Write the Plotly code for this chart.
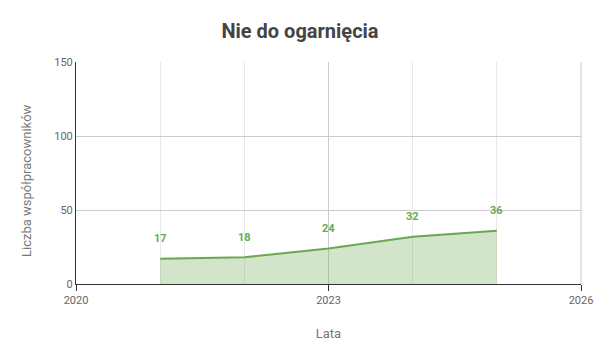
import plotly.graph_objects as go

years = [2021, 2022, 2023, 2024, 2025]
values = [17, 18, 24, 32, 36]
title = "Nie do ogarnięcia"
x_title = "Lata"
y_title = "Liczba współpracowników"

line_color = "#6aa84f"
fill_color = "rgba(106,168,79,0.3)"

W, H = 600, 360
ML, MR, MT, MB = 76, 19, 62, 76

fig = go.Figure()
fig.add_trace(go.Scatter(
    x=years, y=values, mode="lines", fill="tozeroy",
    line=dict(color=line_color, width=2), fillcolor=fill_color,
    hoverinfo="skip", showlegend=False,
))
for x, v in zip(years, values):
    fig.add_annotation(x=x, y=v, text=f"<b>{v}</b>", showarrow=False, yshift=20,
                       font=dict(family="Roboto", size=11, color=line_color))

# y-axis title placed as annotation to match reference position
pw, ph = W - ML - MR, H - MT - MB
fig.add_annotation(xref="paper", yref="paper", x=(26 - ML) / pw, y=(H - MB - 181) / ph,
                   text=y_title, textangle=-90, showarrow=False, xanchor="center", yanchor="middle",
                   font=dict(family="Roboto", size=13, color="#777777"))

fig.update_layout(
    width=W, height=H,
    margin=dict(l=ML, r=MR, t=MT, b=MB, autoexpand=False),
    paper_bgcolor="white", plot_bgcolor="white",
    font=dict(family="Roboto", color="#666"),
    title=dict(text=f"<b>{title}</b>", x=0.5, xanchor="center", y=1 - 31/360, yanchor="middle",
               font=dict(family="Roboto", size=20, color="#444")),
    xaxis=dict(
        range=[2020, 2026], tick0=2020, dtick=3, ticks="outside", ticklen=6, tickcolor="#333",
        showline=True, linecolor="#333", linewidth=1, automargin=False,
        showgrid=True, gridcolor="#cccccc", zeroline=False,
        minor=dict(dtick=1, tick0=2020, showgrid=True, gridcolor="#e8e8e8", ticks=""),
        tickfont=dict(size=11, color="#666"),
        title=dict(text=x_title, font=dict(size=13, color="#777777"), standoff=22),
    ),
    yaxis=dict(
        range=[0, 150], dtick=50, showline=True, linecolor="#333", linewidth=1, automargin=False,
        showgrid=True, gridcolor="#cccccc", zeroline=False, ticks="",
        tickfont=dict(size=11, color="#666"),
    ),
)
fig.add_shape(type="line", xref="paper", yref="paper", x0=1, x1=1, y0=0, y1=1,
              line=dict(color="#cccccc", width=1), layer="below")
fig.write_html("out.html")
